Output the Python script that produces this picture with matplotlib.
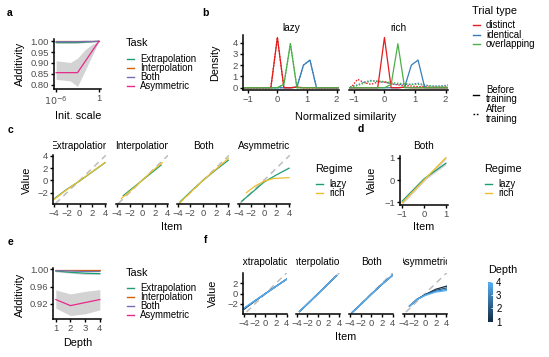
import numpy as np
import matplotlib
matplotlib.use("Agg")
import matplotlib.pyplot as plt
from matplotlib.lines import Line2D
from matplotlib.transforms import Bbox, TransformedBbox
from matplotlib.colors import LinearSegmentedColormap, Normalize
from matplotlib.cm import ScalarMappable

plt.rcParams['font.family'] = ['Liberation Sans', 'DejaVu Sans']

# ---------------- data ----------------
tasks = ['Extrapolation', 'Interpolation', 'Both', 'Asymmetric']
task_colors = ['#1b9e77', '#d95f02', '#7570b3', '#e7298a']

# a: additivity vs init scale
init_scale = [1e-6, 1e-4, 1e-3, 1e-2, 1e-1, 1.0]
add_a = {
    'Extrapolation': [0.994, 0.994, 0.994, 0.996, 0.998, 1.0],
    'Interpolation': [1.0, 1.0, 1.0, 1.0, 1.0, 1.0],
    'Both': [0.998, 0.998, 0.998, 0.999, 0.999, 1.0],
    'Asymmetric': [0.855, 0.855, 0.855, 0.903, 0.952, 1.0],
}
add_a_hi = {
    'Extrapolation': [0.997, 0.997, 0.997, 0.998, 0.999, 1.0],
    'Asymmetric': [0.910, 0.902, 0.922, 0.959, 0.985, 1.0],
}
add_a_lo = {
    'Extrapolation': [0.990, 0.990, 0.991, 0.993, 0.997, 1.0],
    'Asymmetric': [0.824, 0.817, 0.791, 0.860, 0.930, 1.0],
}

# b: similarity densities
trial_types = ['distinct', 'identical', 'overlapping']
trial_colors = ['#e41a1c', '#377eb8', '#4daf4a']
sim = [-1.32, -1.1, -0.88, -0.66, -0.44, -0.22, 0.0, 0.22, 0.44, 0.66, 0.88,
       1.1, 1.32, 1.54, 1.76, 1.98, 2.2]
dens_before = {
    'distinct':    [0, 0, 0, 0, 0, 0, 4.45, 0, 0, 0.05, 0, 0, 0, 0, 0, 0, 0],
    'identical':   [0, 0, 0, 0, 0, 0, 0, 0, 0, 0.05, 2.0, 2.45, 0, 0, 0, 0, 0],
    'overlapping': [0, 0, 0, 0, 0, 0, 0, 0.3, 3.9, 0, 0, 0, 0, 0, 0, 0, 0],
}
dens_after_rich = {
    'distinct':    [0, 0, 0.75, 0.45, 0.3, 0.5, 0.5, 0.35, 0.25, 0.2, 0.15, 0.1, 0.1, 0.05, 0.05, 0.05, 0.0],
    'identical':   [0, 0.1, 0.25, 0.5, 0.65, 0.55, 0.5, 0.35, 0.3, 0.3, 0.3, 0.4, 0.25, 0.15, 0.15, 0.2, 0.3],
    'overlapping': [0, 0.05, 0.2, 0.4, 0.6, 0.6, 0.55, 0.45, 0.4, 0.35, 0.3, 0.3, 0.2, 0.15, 0.1, 0.1, 0.1],
}

# c: value vs item by regime
regime_colors = {'lazy': '#1b9e77', 'rich': '#f0bd2a'}
c_lines = {
    'Extrapolation': {'lazy': ([-4, -2, 0, 2, 4], [-3.0, -1.45, -0.1, 1.4, 2.9]),
                      'rich': ([-4, -2, 0, 2, 4], [-3.1, -1.5, -0.05, 1.45, 2.95])},
    'Interpolation': {'lazy': ([-3, -1.5, 0, 1.5, 3], [-2.5, -1.25, 0, 1.25, 2.5]),
                      'rich': ([-3.3, -1.5, 0, 1.5, 3.2], [-2.95, -1.4, 0, 1.45, 2.9])},
    'Both': {'lazy': ([-3.6, -2, 0, 2, 4], [-3.5, -1.9, 0, 1.7, 3.3]),
             'rich': ([-3.6, -2, 0, 2, 4], [-3.6, -2.0, 0, 1.8, 3.6])},
    'Asymmetric': {'lazy': ([-3.5, -2, 0, 2, 4], [-3.4, -2.1, -0.3, 0.9, 2.0]),
                   'rich': ([-2.75, -1.5, 0, 1.5, 4], [-2.0, -1.0, -0.15, 0.3, 0.45])},
}

# d: Both, normalized
d_item = [-1, 0, 1]
d_lazy = [-0.95, 0.05, 0.75]
d_rich = [-1.02, 0.0, 1.0]
d_band = 0.07

# e: additivity vs depth
depth = [1, 2, 3, 4]
add_e = {
    'Extrapolation': [0.996, 0.993, 0.991, 0.990],
    'Interpolation': [0.9995, 0.9995, 0.9995, 0.9995],
    'Both': [0.997, 0.996, 0.995, 0.995],
    'Asymmetric': [0.930, 0.916, 0.923, 0.930],
}
add_e_hi = {
    'Extrapolation': [0.998, 0.995, 0.993, 0.992],
    'Asymmetric': [0.952, 0.943, 0.949, 0.953],
}
add_e_lo = {
    'Extrapolation': [0.994, 0.991, 0.988, 0.988],
    'Asymmetric': [0.910, 0.893, 0.897, 0.906],
}

# f: value vs item by depth
f_lines = {
    'Extrapolation': ([-4, -2, 0, 2, 4],
                      [[-3.0, -1.45, 0, 1.4, 2.8], [-2.9, -1.42, 0, 1.4, 2.78],
                       [-2.8, -1.4, 0, 1.4, 2.76], [-2.75, -1.38, 0, 1.4, 2.75]]),
    'Interpolation': ([-3.5, -2, 0, 2, 3.5],
                      [[-3.45, -2, 0, 2, 3.5]] * 4),
    'Both': ([-3.7, -2, 0, 2, 4],
             [[-3.7, -2.1, -0.1, 1.8, 3.55]] * 4),
    'Asymmetric': ([-2.9, -1.5, 0, 2, 4],
                   [[-2.4, -1.1, -0.2, 0.85, 1.45], [-2.4, -1.1, -0.25, 0.65, 1.1],
                    [-2.4, -1.15, -0.3, 0.45, 0.8], [-2.4, -1.15, -0.35, 0.3, 0.6]]),
}
depth_cmap = LinearSegmentedColormap.from_list('depth', ['#132B43', '#56B1F7'])

# ---------------- layout helpers ----------------
W, H = 549, 357
fig = plt.figure(figsize=(W / 100, H / 100), dpi=100)
TICK = '#4d4d4d'
band_col = '#d3d3d3'
ident_col = '#bdbdbd'


def fx(x):
    return x / W


def fy(y):
    return 1 - y / H


def ftext(x, y, s, **kw):
    return fig.text(fx(x), fy(y), s, **kw)


def panel(l, t, r, b, yaxis=True):
    ax = fig.add_axes([fx(l), fy(b), (r - l) / W, (b - t) / H])
    for s in ['top', 'right']:
        ax.spines[s].set_visible(False)
    for s in ['left', 'bottom']:
        ax.spines[s].set_linewidth(1.1)
    ax.tick_params(length=2.5, width=1.0, labelsize=6.8, labelcolor=TICK, pad=1.2)
    if not yaxis:
        ax.spines['left'].set_visible(False)
        ax.tick_params(axis='y', left=False, labelleft=False)
    return ax


def strip(l, r, y, s):
    t = ftext((l + r) / 2, y, s, fontsize=7.2, ha='center', va='center')
    box = TransformedBbox(Bbox([[fx(l), fy(y + 8)], [fx(r), fy(y - 8)]]), fig.transFigure)
    t.set_clip_box(box)
    t.set_clip_on(True)


def legend(x, ty, title, entries, ys, keyw=7):
    ftext(x, ty, title, fontsize=7.8, va='center')
    for i, (lab, col) in enumerate(entries):
        fig.add_artist(Line2D([fx(x + 1), fx(x + 1 + keyw)], [fy(ys[i]), fy(ys[i])],
                              color=col, lw=1.0, transform=fig.transFigure))
        ftext(x + 14, ys[i], lab, fontsize=6.9, va='center', linespacing=0.95)


def label(x, y, s):
    ftext(x, y, s, fontsize=7.5, fontweight='bold', ha='center', va='center')


# ---------------- a ----------------
ax = panel(54, 39, 101, 89)
for t, c in zip(tasks, task_colors):
    if t in add_a_hi:
        ax.fill_between(init_scale, add_a_lo[t], add_a_hi[t], color=band_col, lw=0)
for t, c in zip(tasks, task_colors):
    ax.plot(init_scale, add_a[t], color=c, lw=0.9)
ax.set_xscale('log')
ax.set_xlim(10 ** -6.3, 10 ** 0.3)
ax.set_ylim(0.7795, 1.0105)
ax.set_xticks([1e-6, 1])
ax.set_xticklabels(['$10^{-6}$', '1'])
ax.xaxis.set_minor_locator(matplotlib.ticker.NullLocator())
ax.set_yticks([0.80, 0.85, 0.90, 0.95, 1.00])
ax.set_yticklabels(['0.80', '0.85', '0.90', '0.95', '1.00'])
ftext(20, 64, 'Additivity', fontsize=7.8, rotation=90, ha='center', va='center')
ftext(78, 116, 'Init. scale', fontsize=7.8, ha='center', va='center')
legend(126, 43, 'Task', list(zip(tasks, task_colors)), [59, 68, 77, 86])
label(10, 13, 'a')

# ---------------- b ----------------
for i, (l, r, regime) in enumerate([(243, 339, 'lazy'), (349, 448, 'rich')]):
    ax = panel(l, 35, r, 90, yaxis=(i == 0))
    after = dens_before if regime == 'lazy' else dens_after_rich
    for t, c in zip(trial_types, trial_colors):
        ax.plot(sim, after[t], color=c, lw=0.9, ls=(0, (1.2, 1.2)))
    for t, c in zip(['identical', 'distinct', 'overlapping'], ['#377eb8', '#e41a1c', '#4daf4a']):
        ax.plot(sim, dens_before[t], color=c, lw=0.9)
    ax.set_xlim(-1.16, 2.08)
    ax.set_ylim(-0.2, 4.67)
    ax.set_xticks([-1, 0, 1, 2])
    ax.set_yticks([0, 1, 2, 3, 4])
    strip(l, r, 28, regime)
ftext(215, 63, 'Density', fontsize=7.8, rotation=90, ha='center', va='center')
ftext(345.5, 117, 'Normalized similarity', fontsize=7.8, ha='center', va='center')
legend(472, 11, 'Trial type', list(zip(trial_types, trial_colors)), [25, 34.5, 44])
for ty, lab, ls in [(94.5, 'Before\ntraining', '-'), (114, 'After\ntraining', (0, (1.2, 1.2)))]:
    fig.add_artist(Line2D([fx(473), fx(479)], [fy(ty), fy(ty)], color='black', lw=1.0, ls=ls,
                          transform=fig.transFigure))
    ftext(486, ty, lab, fontsize=6.9, va='center', linespacing=0.95)
label(205, 13, 'b')

# ---------------- c ----------------
c_facets = [(53.3, 106), (116, 168.3), (176.7, 229.3), (237.7, 290)]
ident = [-5, 5]
for i, (t, (l, r)) in enumerate(zip(tasks, c_facets)):
    ax = panel(l, 155, r, 204.3, yaxis=(i == 0))
    ax.plot(ident, ident, color=ident_col, lw=1.1, ls=(0, (4, 3)))
    for regime in ['lazy', 'rich']:
        xs, ys = c_lines[t][regime]
        ax.plot(xs, ys, color=regime_colors[regime], lw=0.9)
    ax.set_xlim(-4.15, 4.15)
    ax.set_ylim(-3.92, 4.16)
    ax.set_xticks([-4, -2, 0, 2, 4])
    ax.set_yticks([-2, 0, 2, 4])
    strip(l, r, 145.7, t)
ftext(27, 180, 'Value', fontsize=7.8, rotation=90, ha='center', va='center')
ftext(172, 227, 'Item', fontsize=7.8, ha='center', va='center')
legend(315, 169, 'Regime', list(regime_colors.items()), [184, 193])
label(10, 130, 'c')

# ---------------- d ----------------
ax = panel(400, 155.7, 448, 205)
ax.fill_between(d_item, [v - d_band for v in d_lazy], [v + d_band for v in d_lazy],
                color=band_col, lw=0)
ax.fill_between(d_item, [v - d_band for v in d_rich], [v + d_band for v in d_rich],
                color=band_col, lw=0)
ax.plot(d_item, d_lazy, color=regime_colors['lazy'], lw=0.9)
ax.plot(d_item, d_rich, color=regime_colors['rich'], lw=0.9)
ax.set_xlim(-1.1, 1.1)
ax.set_ylim(-1.12, 1.09)
ax.set_xticks([-1, 0, 1])
ax.set_yticks([-1, 0, 1])
strip(400, 448, 145.7, 'Both')
ftext(372, 180, 'Value', fontsize=7.8, rotation=90, ha='center', va='center')
ftext(424, 227, 'Item', fontsize=7.8, ha='center', va='center')
legend(484, 169, 'Regime', list(regime_colors.items()), [184, 193])
label(361, 129, 'd')

# ---------------- e ----------------
ax = panel(53.3, 267.7, 101, 319)
for t in tasks:
    if t in add_e_hi:
        ax.fill_between(depth, add_e_lo[t], add_e_hi[t], color=band_col, lw=0)
for t, c in zip(tasks, task_colors):
    ax.plot(depth, add_e[t], color=c, lw=0.9)
ax.set_xlim(0.83, 4.08)
ax.set_ylim(0.885, 1.0037)
ax.set_xticks([1, 2, 3, 4])
ax.set_yticks([0.92, 0.96, 1.00])
ax.set_yticklabels(['0.92', '0.96', '1.00'])
ftext(20, 295, 'Additivity', fontsize=7.8, rotation=90, ha='center', va='center')
ftext(78, 343, 'Depth', fontsize=7.8, ha='center', va='center')
legend(126, 273, 'Task', list(zip(tasks, task_colors)), [288, 297, 306, 315])
label(10, 242, 'e')

# ---------------- f ----------------
f_facets = [(243.3, 287.3), (296, 340), (349.3, 393.3), (402.7, 447.3)]
norm = Normalize(1, 4)
for i, (t, (l, r)) in enumerate(zip(tasks, f_facets)):
    ax = panel(l, 273.3, r, 314.3, yaxis=(i == 0))
    ax.plot(ident, ident, color=ident_col, lw=1.1, ls=(0, (4, 3)))
    xs, ys_all = f_lines[t]
    for dpt, ys in zip(depth, ys_all):
        ax.plot(xs, ys, color=depth_cmap(norm(dpt)), lw=0.9)
    ax.set_xlim(-4.17, 4.15)
    ax.set_ylim(-4.0, 3.94)
    ax.set_xticks([-4, -2, 0, 2, 4])
    ax.set_yticks([-2, 0, 2])
    strip(l, r, 262.3, t)
ftext(213, 293, 'Value', fontsize=7.8, rotation=90, ha='center', va='center')
ftext(345.5, 337.5, 'Item', fontsize=7.8, ha='center', va='center')
cax = fig.add_axes([fx(488.3), fy(321.7), 5 / W, 40 / H])
cb = fig.colorbar(ScalarMappable(norm=norm, cmap=depth_cmap), cax=cax, ticks=depth)
cb.outline.set_visible(False)
cb.ax.tick_params(direction='in', color='white', length=1.5, width=0.6,
                  labelsize=6.9, labelcolor='black', pad=2)
ftext(488.3, 270, 'Depth', fontsize=7.8, va='center')
label(206, 240, 'f')

fig.savefig('out.png', dpi=100)
